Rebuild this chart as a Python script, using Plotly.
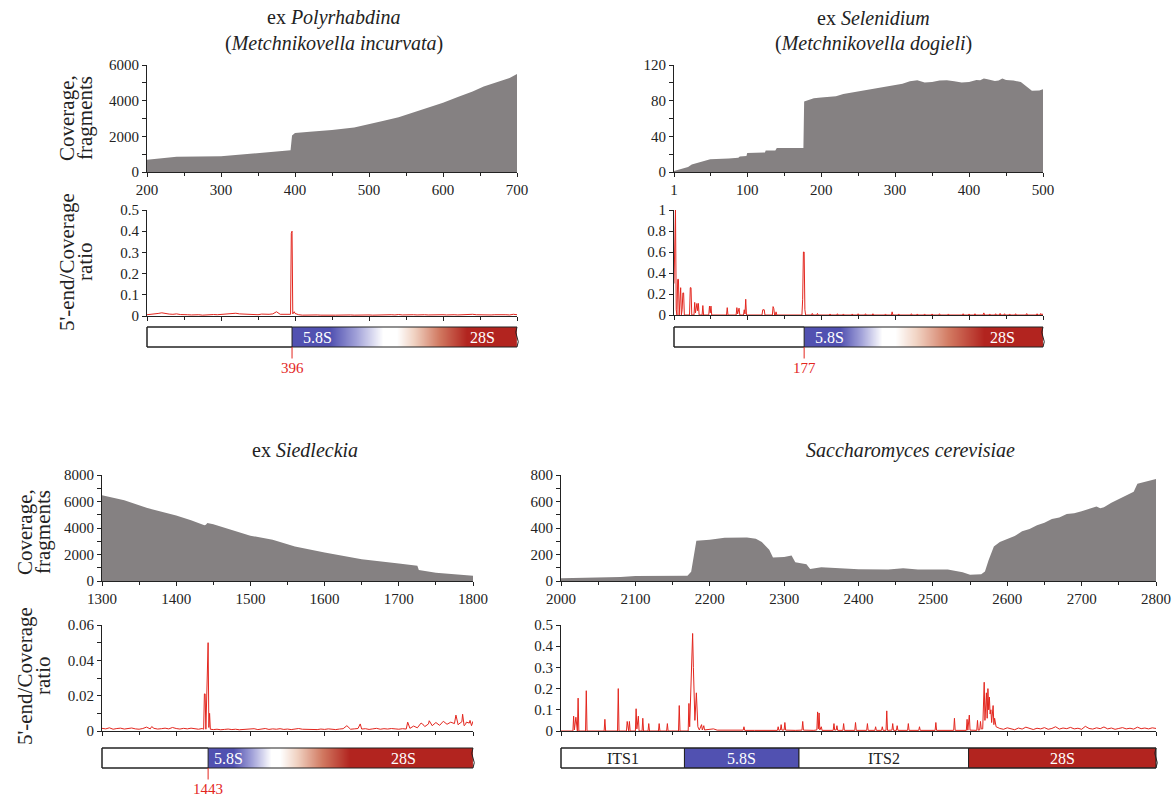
import plotly.graph_objects as go

W, H = 1172, 798
FONT = "Liberation Serif, Times New Roman, serif"
INK = '#222222'
GREY = '#858182'
RED = '#e3261e'
BLUE = '#5151b1'
DRED = '#b2241f'

# ---------------- data: coverage ----------------
covA_x = [200, 240, 300, 320, 330, 350, 370, 380, 394, 396, 400, 420, 450, 480, 500, 520,
          540, 560, 580, 600, 620, 640, 655, 670, 690, 700]
covA_y = [690, 850, 880, 950, 1005, 1060, 1120, 1195, 1215, 2050, 2180, 2260, 2350, 2500, 2675,
          2880, 3075, 3340, 3625, 3890, 4210, 4515, 4800, 5010, 5275, 5500]

covB_x = [1, 5, 10, 15, 20, 25, 30, 35, 45, 50, 75, 88, 90, 99, 100, 120, 124, 125, 138, 140,
          175, 176, 177, 190, 200, 220, 230, 250, 270, 290, 300, 310, 320, 330, 340, 350, 360,
          370, 380, 390, 400, 405, 410, 415, 420, 425, 430, 435, 440, 445, 450, 460, 470, 475,
          480, 485, 495, 500]
covB_y = [1, 2, 3.4, 4.5, 5.7, 8.4, 9.5, 10.6, 12.5, 14.4, 15.2, 16, 17.5, 18, 21.3, 22, 22, 24,
          24, 27, 27, 27, 79, 82.8, 83.6, 85, 87.4, 90.4, 93.8, 96, 98, 99, 101.8, 103, 100.3,
          101, 102.6, 103, 101.8, 100.5, 101, 102, 103.3, 103, 104.8, 104, 103.3, 102, 102.6,
          104.8, 103.3, 102.6, 101, 98, 94.2, 91.2, 91.5, 92.7]

covC_x = [1300, 1330, 1360, 1400, 1420, 1438, 1440, 1442, 1450, 1480, 1500, 1530, 1560, 1600,
          1650, 1700, 1725, 1727, 1750, 1800]
covC_y = [6480, 6100, 5520, 4940, 4580, 4200, 4250, 4380, 4280, 3750, 3420, 3110, 2600, 2150,
          1650, 1320, 1160, 830, 630, 400]

covD_x = [2000, 2050, 2080, 2100, 2150, 2170, 2175, 2178, 2182, 2200, 2220, 2250, 2262, 2270,
          2275, 2280, 2285, 2300, 2310, 2315, 2330, 2335, 2350, 2380, 2400, 2440, 2460, 2480,
          2520, 2540, 2550, 2565, 2570, 2575, 2582, 2590, 2600, 2610, 2620, 2630, 2640, 2650,
          2660, 2670, 2680, 2690, 2700, 2710, 2720, 2725, 2730, 2740, 2750, 2760, 2770, 2775,
          2790, 2800]
covD_y = [20, 25, 30, 38, 38, 40, 70, 172, 304, 311, 326, 329, 319, 294, 263, 235, 177, 182,
          192, 142, 127, 91, 104, 96, 89, 86, 96, 86, 86, 66, 48, 51, 71, 159, 261, 294, 319,
          340, 375, 392, 420, 440, 468, 480, 506, 512, 527, 545, 562, 550, 557, 590, 618, 640,
          673, 734, 759, 770]

# ---------------- data: 5'-end / coverage ratio ----------------
ratA_base_x = list(range(200, 701, 5))
ratA_base_y = [.006, .008, .007, .012, .015, .011, .009, .008, .010, .007,
               .008, .006, .005, .007, .006, .004, .006, .005, .007, .006,
               .008, .009, .012, .011, .013, .010, .009, .008, .007, .008,
               .006, .009, .007, .008, .010, .020, .008, .007, .009, .010,
               .012, .006, .004, .005, .003, .004, .005, .004, .003, .005,
               .004, .004, .005, .003, .004, .005, .004, .005, .006, .004,
               .005, .004, .005, .006, .004, .005, .006, .005, .007, .005,
               .006, .008, .006, .005, .007, .006, .005, .006, .007, .005,
               .006, .005, .007, .006, .005, .006, .007, .005, .008, .006,
               .005, .007, .006, .005, .006, .007, .005, .006, .005, .008,
               .006]
ratA_peak_x = [394, 395, 396, 397, 399]
ratA_peak_y = [.008, .39, .40, .01, .02]

ratB_pts = [(1, .3), (2, 1), (3, 1), (4, .05), (5, 0), (6, .34), (7, .34), (8, 0), (9, .1), (10, .26),
            (11, 0), (12, .05), (13, .21), (14, .21), (15, 0), (22, 0), (23, .26), (24, .26), (25, 0),
            (28, 0), (29, .12), (30, .02), (32, .11), (33, .04), (34, .11), (35, 0), (39, 0), (40, .09),
            (41, 0), (48, 0), (49, .085), (50, .02), (51, .085), (52, 0), (72, 0), (73, .07), (74, 0),
            (85, 0), (86, .07), (87, .01), (89, .065), (90, 0), (95, 0), (96, .05), (97, .01), (98, .15),
            (99, 0), (120, 0), (121, .05), (122, .05), (123, .05), (124, 0), (134, 0), (135, .08),
            (136, .06), (137, 0), (138, 0), (139, .03), (140, 0), (174, 0), (175, .15), (176, .6),
            (177, .6), (178, .05), (179, 0), (187, 0), (188, .015), (189, 0), (194, 0), (195, .015),
            (196, 0), (211, 0), (212, .01), (213, 0), (221, 0), (222, .012), (223, 0), (229, 0),
            (230, .01), (231, 0), (241, 0), (242, .01), (243, 0), (249, 0), (250, .012), (251, 0),
            (259, 0), (260, .012), (261, 0), (269, 0), (270, .012), (271, 0), (286, 0), (287, .01),
            (288, 0), (295, 0), (296, .03), (297, 0), (304, 0), (305, .01), (306, 0), (321, 0),
            (322, .012), (323, 0), (329, 0), (330, .01), (331, 0), (339, 0), (340, .01), (341, 0),
            (349, 0), (350, .01), (351, 0), (359, 0), (360, .012), (361, 0), (371, 0), (372, .01),
            (373, 0), (391, 0), (392, .012), (393, 0), (399, 0), (400, .01), (401, 0), (407, 0),
            (408, .012), (409, 0), (419, 0), (420, .02), (421, 0), (427, 0), (428, .01), (429, 0),
            (435, 0), (436, .012), (437, 0), (441, 0), (442, .015), (443, 0), (447, 0), (448, .012),
            (449, 0), (454, 0), (455, .01), (456, 0), (462, 0), (463, .012), (464, 0), (477, 0),
            (478, .014), (479, 0), (491, 0), (492, .012), (493, 0), (496, 0), (497, .015), (498, 0),
            (500, .01)]

ratC_base_x = list(range(1300, 1801, 5))
ratC_base_y = [.0015, .0012, .0018, .0010, .0014, .0016, .0011, .0013, .0017, .0012,
               .0010, .0014, .0022, .0012, .0015, .0011, .0013, .0016, .0012, .0020,
               .0014, .0011, .0015, .0012, .0016, .0013, .0010, .0014, .0012, .0010,
               .0008, .0010, .0007, .0009, .0011, .0008, .0010, .0007, .0009, .0012,
               .0010, .0013, .0008, .0011, .0014, .0009, .0012, .0010, .0013, .0009,
               .0011, .0008, .0012, .0014, .0010, .0009, .0012, .0010, .0008, .0011,
               .0009, .0012, .0010, .0008, .0011, .0013, .0030, .0010, .0012, .0014,
               .0011, .0013, .0009, .0012, .0015, .0010, .0013, .0011, .0014, .0012,
               .0010, .0013, .0011, .0015, .0028, .0018, .0045, .0025, .0040, .0030,
               .0048, .0032, .0055, .0038, .0050, .0042, .0035, .0052, .0038, .0045,
               .0055]
ratC_peak_x = [1367, 1437, 1438, 1439, 1440, 1442, 1443, 1444, 1445, 1446, 1648, 1712, 1732,
               1741, 1764, 1777, 1781, 1786, 1788, 1791, 1796, 1798]
ratC_peak_y = [.0025, .0010, .021, .021, .0010, .050, .050, .0020, .010, .0010, .004, .005, .004,
               .0058, .0045, .009, .004, .0095, .003, .005, .006, .003]

ratD_pts = [(2000, 0), (2016, 0), (2017, .07), (2018, .005), (2020, .065), (2021, 0), (2022, 0),
            (2023, .155), (2024, 0), (2033, 0), (2034, .19), (2035, 0), (2058, 0), (2059, .055),
            (2060, 0), (2076, 0), (2077, .2), (2078, 0), (2088, 0), (2089, .045), (2090, 0),
            (2091, 0), (2092, .045), (2093, 0), (2100, 0), (2101, .105), (2102, .01), (2104, .07),
            (2105, 0), (2109, 0), (2110, .06), (2111, 0), (2117, 0), (2118, .035), (2119, 0),
            (2131, 0), (2132, .035), (2133, 0), (2142, 0), (2143, .035), (2144, 0), (2158, 0),
            (2159, .12), (2160, 0), (2171, 0), (2172, .13), (2173, .02), (2175, .2), (2177, .46),
            (2178, .3), (2179, .1), (2180, .05), (2182, .18), (2183, .1), (2184, .02), (2186, .005),
            (2189, .03), (2190, .005), (2192, .025), (2193, .005), (2200, .006), (2205, .01),
            (2210, .004), (2220, .005), (2235, .003), (2245, .004), (2246, .02), (2247, .003),
            (2260, .003), (2275, .002), (2291, .003), (2292, .02), (2293, .003), (2295, .005),
            (2296, .03), (2297, .004), (2300, .005), (2301, .04), (2302, .004), (2315, .003),
            (2324, .004), (2325, .045), (2326, .004), (2340, .003), (2344, .005), (2345, .09),
            (2346, .01), (2347, .085), (2348, .005), (2350, .02), (2351, .003), (2366, .003),
            (2367, .035), (2368, .004), (2370, .005), (2371, .025), (2372, .003), (2379, .003),
            (2380, .035), (2381, .003), (2395, .003), (2396, .04), (2397, .003), (2411, .003),
            (2412, .035), (2413, .003), (2422, .003), (2423, .02), (2424, .003), (2431, .003),
            (2432, .02), (2433, .003), (2437, .003), (2438, .095), (2439, .003), (2445, .004),
            (2446, .035), (2447, .003), (2451, .003), (2452, .025), (2453, .003), (2466, .003),
            (2467, .035), (2468, .003), (2481, .003), (2482, .02), (2483, .003), (2503, .003),
            (2504, .04), (2505, .003), (2528, .003), (2529, .06), (2530, .003), (2545, .003),
            (2546, .055), (2547, .004), (2549, .075), (2550, .004), (2559, .003), (2560, .05),
            (2561, .004), (2563, .005), (2564, .045), (2565, .01), (2567, .01), (2569, .23),
            (2570, .05), (2572, .18), (2573, .06), (2574, .2), (2575, .1), (2576, .16), (2577, .08),
            (2578, .1), (2579, .04), (2581, .12), (2582, .03), (2583, .06), (2585, .02)]
ratD_tail_x = list(range(2590, 2801, 5))
ratD_tail_y = [.012, .008, .015, .010, .006, .014, .009, .018, .011, .007,
               .013, .010, .016, .008, .012, .020, .009, .014, .011, .017,
               .010, .013, .008, .022, .012, .009, .015, .011, .019, .010,
               .014, .008, .012, .016, .010, .013, .009, .018, .011, .014,
               .010, .015, .012]

# ---------------- data: rDNA annotation ----------------
titles = [["ex <i>Polyrhabdina</i>", "(<i>Metchnikovella incurvata</i>)"],
          ["ex <i>Selenidium</i>", "(<i>Metchnikovella dogieli</i>)"],
          ["ex <i>Siedleckia</i>"],
          ["<i>Saccharomyces cerevisiae</i>"]]
boundaries = [396, 177, 1443, None]
segD_names = ["ITS1", "5.8S", "ITS2", "28S"]
segD_start = [2000, 2166, 2320, 2548]
segD_end = [2166, 2320, 2548, 2800]


def merge(bx, by, px_, py_):
    d = dict(zip(bx, by))
    d.update(dict(zip(px_, py_)))
    ks = sorted(d)
    return ks, [d[k] for k in ks]


ratA_x, ratA_y = merge(ratA_base_x, ratA_base_y, ratA_peak_x, ratA_peak_y)
ratB_x, ratB_y = [p[0] for p in ratB_pts], [p[1] for p in ratB_pts]
ratC_x, ratC_y = merge(ratC_base_x, ratC_base_y, ratC_peak_x, ratC_peak_y)
ratD_x = [p[0] for p in ratD_pts] + ratD_tail_x
ratD_y = [p[1] for p in ratD_pts] + ratD_tail_y

# ---------------- layout configuration (reference pixels) ----------------
panels = [
    dict(px=(147, 517), cov=(65, 172), rat=(210, 316), bar=(327, 347), tx=334, ty=(18, 43),
         xr=(200, 700), xt=[200, 300, 400, 500, 600, 700], xm=[250, 350, 450, 550, 650],
         cy=(0, 6000), cyt=[0, 2000, 4000, 6000], cym=[1000, 3000, 5000],
         ry=(0, 0.5), ryt=[0, .1, .2, .3, .4, .5], rym=[],
         cx=covA_x, cv=covA_y, rx=ratA_x, rv=ratA_y,
         grad_x=[396, 396.5, 447, 519, 538, 632, 699.5, 700], lab58=431, lab28=654),
    dict(px=(674, 1043), cov=(65, 172), rat=(210, 315), bar=(327, 347), tx=873, ty=(18, 43),
         xr=(1, 500), xt=[1, 100, 200, 300, 400, 500], xm=[50, 150, 250, 350, 450],
         cy=(0, 120), cyt=[0, 40, 80, 120], cym=[20, 60, 100],
         ry=(0, 1), ryt=[0, .2, .4, .6, .8, 1], rym=[],
         cx=covB_x, cv=covB_y, rx=ratB_x, rv=ratB_y,
         grad_x=[177, 177.5, 226, 282, 300, 420, 499.5, 500], lab58=211, lab28=445),
    dict(px=(102, 473), cov=(475, 581), rat=(625, 731), bar=(748, 768), tx=305, ty=(450,),
         xr=(1300, 1800), xt=[1300, 1400, 1500, 1600, 1700, 1800], xm=[1350, 1450, 1550, 1650, 1750],
         cy=(0, 8000), cyt=[0, 2000, 4000, 6000, 8000], cym=[1000, 3000, 5000, 7000],
         ry=(0, 0.06), ryt=[0, .02, .04, .06], rym=[.01, .03, .05],
         cx=covC_x, cv=covC_y, rx=ratC_x, rv=ratC_y,
         grad_x=[1443, 1443.5, 1477, 1528, 1540, 1634, 1799.5, 1800], lab58=1471, lab28=1707),
    dict(px=(561, 1156), cov=(475, 581), rat=(625, 731), bar=(748, 768), tx=910, ty=(450,),
         xr=(2000, 2800), xt=list(range(2000, 2801, 100)), xm=list(range(2050, 2800, 100)),
         cy=(0, 800), cyt=[0, 200, 400, 600, 800], cym=[100, 300, 500, 700],
         ry=(0, 0.5), ryt=[0, .1, .2, .3, .4, .5], rym=[],
         cx=covD_x, cv=covD_y, rx=ratD_x, rv=ratD_y, grad_x=None),
]
grad_z = [0, 0, 0, 0.5, 0.5, 1, 1, 1]
grad_scale = [[0, BLUE], [0.25, '#a3a3d9'], [0.5, '#ffffff'], [0.62, '#f1d3c3'],
              [0.8, '#d27a62'], [1, DRED]]


def fx(p):
    return p / W


def fy(p):
    return 1 - p / H


tickfont = dict(family=FONT, size=15, color=INK)
axis_common = dict(showline=True, linecolor=INK, linewidth=1, ticks='outside', tickcolor=INK,
                   ticklen=4, tickwidth=1, showgrid=False, zeroline=False, tickfont=tickfont,
                   fixedrange=True, automargin=False)

fig = go.Figure()
layout = dict(template='none', width=W, height=H, autosize=False,
              margin=dict(l=0, r=0, t=0, b=0, pad=0, autoexpand=False),
              paper_bgcolor='white', plot_bgcolor='rgba(0,0,0,0)', showlegend=False,
              font=dict(family=FONT, color=INK))
shapes, annos = [], []

for i, P in enumerate(panels):
    nc, nr, nb = 3 * i + 1, 3 * i + 2, 3 * i + 3
    sfx = lambda n: '' if n == 1 else str(n)
    x0p, x1p = P['px']
    upp = (P['xr'][1] - P['xr'][0]) / (x1p - x0p)  # data units per pixel
    xdom = [fx(x0p), fx(x1p)]
    minor_x = dict(tickvals=P['xm'], ticks='outside', ticklen=3, tickcolor=INK, tickwidth=1,
                   showgrid=False)
    # coverage axes
    layout['xaxis' + sfx(nc)] = dict(axis_common, domain=xdom, range=list(P['xr']), anchor='y' + sfx(nc),
                                     tickmode='array', tickvals=P['xt'], minor=minor_x)
    layout['yaxis' + sfx(nc)] = dict(axis_common, domain=[fy(P['cov'][1]), fy(P['cov'][0])],
                                     range=list(P['cy']), anchor='x' + sfx(nc), tickmode='array',
                                     tickvals=P['cyt'],
                                     minor=dict(tickvals=P['cym'], ticks='outside', ticklen=4,
                                                tickcolor=INK, tickwidth=1, showgrid=False))
    # ratio axes
    layout['xaxis' + sfx(nr)] = dict(axis_common, domain=xdom, range=list(P['xr']), anchor='y' + sfx(nr),
                                     tickmode='array', tickvals=P['xt'], showticklabels=False,
                                     minor=minor_x)
    ra = dict(axis_common, domain=[fy(P['rat'][1]), fy(P['rat'][0])], range=list(P['ry']),
              anchor='x' + sfx(nr), tickmode='array', tickvals=P['ryt'])
    if P['rym']:
        ra['minor'] = dict(tickvals=P['rym'], ticks='outside', ticklen=4, tickcolor=INK,
                           tickwidth=1, showgrid=False)
    layout['yaxis' + sfx(nr)] = ra
    # bar axes (padded so the outline is not clipped)
    pad = 4
    layout['xaxis' + sfx(nb)] = dict(visible=False, domain=[fx(x0p - pad), fx(x1p + pad)],
                                     range=[P['xr'][0] - pad * upp, P['xr'][1] + pad * upp],
                                     anchor='y' + sfx(nb), fixedrange=True, automargin=False)
    layout['yaxis' + sfx(nb)] = dict(visible=False, domain=[fy(P['bar'][1] + 3), fy(P['bar'][0] - 3)],
                                     range=[-0.15, 1.15], anchor='x' + sfx(nb), fixedrange=True,
                                     automargin=False)

    fig.add_trace(go.Scatter(x=P['cx'], y=P['cv'], mode='lines', line=dict(width=0, color=GREY),
                             fill='tozeroy', fillcolor=GREY, xaxis='x' + sfx(nc), yaxis='y' + sfx(nc),
                             hoverinfo='skip'))
    fig.add_trace(go.Scatter(x=P['rx'], y=P['rv'], mode='lines', line=dict(width=1, color=RED),
                             xaxis='x' + sfx(nr), yaxis='y' + sfx(nr), hoverinfo='skip', cliponaxis=True))

    xs, xe = P['xr']
    bx, by = 'x' + sfx(nb), 'y' + sfx(nb)
    if P['grad_x'] is not None:
        b = boundaries[i]
        fig.add_trace(go.Heatmap(x=P['grad_x'], y=[0.25, 0.75], z=[grad_z, grad_z],
                                 colorscale=grad_scale, zmin=0, zmax=1, zsmooth='best',
                                 showscale=False, xaxis=bx, yaxis=by, hoverinfo='skip'))
        shapes.append(dict(type='rect', xref=bx, yref=by, x0=xs, x1=b, y0=0, y1=1,
                           fillcolor='white', line=dict(color=INK, width=1)))
        annos.append(dict(x=P['lab58'], y=0.5, xref=bx, yref=by, text='5.8S', showarrow=False,
                          font=dict(family=FONT, size=16, color='white')))
        annos.append(dict(x=P['lab28'], y=0.5, xref=bx, yref=by, text='28S', showarrow=False,
                          font=dict(family=FONT, size=16, color='white')))
        annos.append(dict(x=b, y=0, xref=bx, yref=by, text=str(b), showarrow=True, arrowhead=0,
                          arrowcolor=RED, arrowwidth=1, ax=0, ay=21, standoff=0,
                          font=dict(family=FONT, size=15, color=RED)))
    else:
        cols = ['white', BLUE, 'white', DRED]
        tcols = [INK, 'white', INK, 'white']
        for nm, s0, s1, c, tc in zip(segD_names, segD_start, segD_end, cols, tcols):
            shapes.append(dict(type='rect', xref=bx, yref=by, x0=s0, x1=s1, y0=0, y1=1,
                               fillcolor=c, line=dict(color=INK, width=1), layer='below'))
            annos.append(dict(x=(s0 + s1) / 2, y=0.5, xref=bx, yref=by, text=nm, showarrow=False,
                              font=dict(family=FONT, size=16, color=tc)))
    d = 2.5 * upp
    path = (f"M {xs},0 L {xs},1 L {xe},1 Q {xe - d},0.72 {xe},0.5 Q {xe + d},0.28 {xe},0 Z")
    shapes.append(dict(type='path', xref=bx, yref=by, path=path, line=dict(color=INK, width=1),
                       fillcolor='rgba(0,0,0,0)'))

    for t, yy in zip(titles[i], P['ty']):
        annos.append(dict(x=fx(P['tx']), y=fy(yy), xref='paper', yref='paper', text=t,
                          showarrow=False, xanchor='center', yanchor='middle',
                          font=dict(family=FONT, size=20, color=INK)))

# y-axis titles (left column only)
ytitles = [(67, 85, 118, 262), (25, 43, 532, 676)]
for c1, c2, yc, yr in ytitles:
    for txt, xx, yy in [("Coverage,", c1, yc), ("fragments", c2, yc),
                        ("5'-end/Coverage", c1, yr), ("ratio", c2, yr)]:
        annos.append(dict(x=fx(xx), y=fy(yy), xref='paper', yref='paper', text=txt, textangle=-90,
                          showarrow=False, xanchor='center', yanchor='middle',
                          font=dict(family=FONT, size=21, color=INK)))

layout['shapes'] = shapes
layout['annotations'] = annos
fig.update_layout(**layout)
# the page's default 8px body margin would shift the figure; remove it
fig.write_html("out.html", config={'displayModeBar': False},
               post_script="document.body.style.margin='0px';document.body.style.overflow='hidden';")
